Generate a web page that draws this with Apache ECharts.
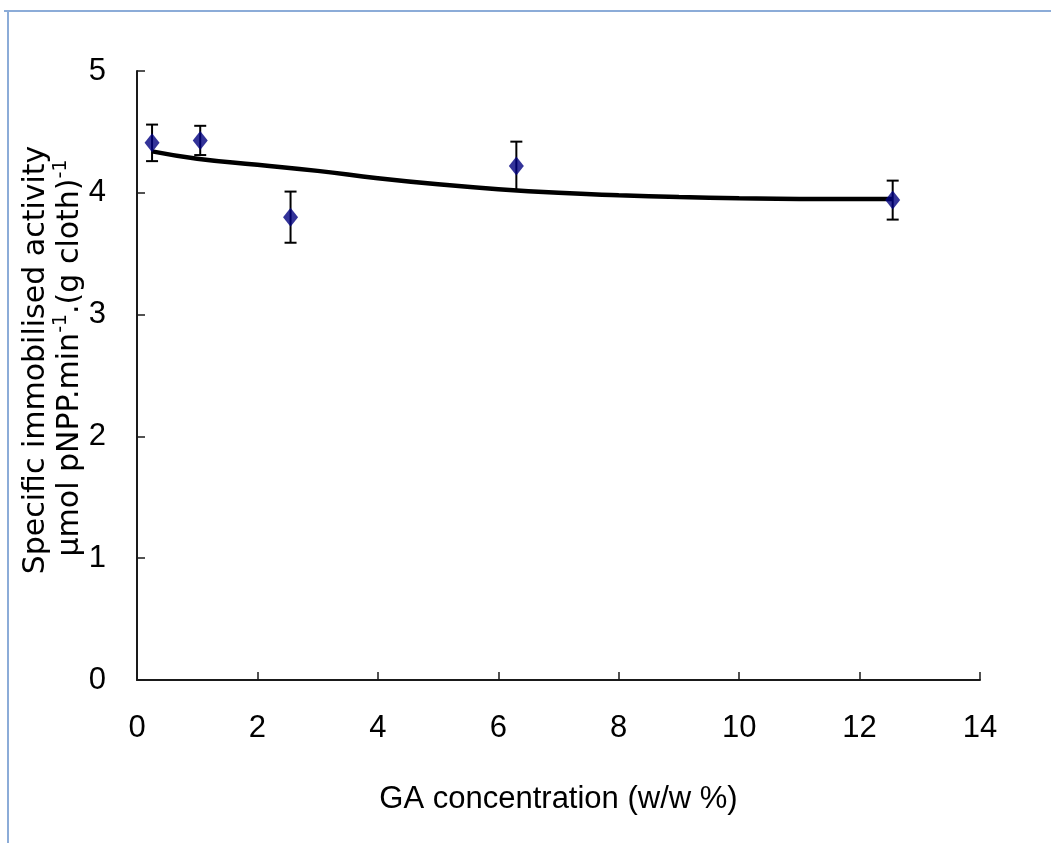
<!DOCTYPE html>
<html>
<head>
<meta charset="utf-8">
<style>
  html, body { margin: 0; padding: 0; background: #ffffff; }
  #chart { width: 1051px; height: 843px; }
</style>
<script src="https://cdn.jsdelivr.net/npm/echarts@6/dist/echarts.min.js"></script>
</head>
<body>
<div id="chart"></div>
<script>
// GA concentration (w/w %) of each measured sample
const gaConcentration = [0.25, 1.05, 2.55, 6.3, 12.55];
// Mean specific immobilised activity and its standard deviation
const activity = [4.41, 4.43, 3.80, 4.22, 3.94];
const activityError = [0.15, 0.12, 0.21, 0.20, 0.16];
// Fitted trend curve through the measurements
const trendX = [0.25, 1, 2, 3, 4, 5, 6, 7, 8, 9, 10, 11, 12, 12.55];
const trendY = [4.34, 4.28, 4.23, 4.18, 4.12, 4.07, 4.03, 4.00, 3.98, 3.965, 3.955, 3.95, 3.95, 3.95];
// Axis ranges and steps
const xAxisRange = [0, 14, 2];
const yAxisRange = [0, 5, 1];

const FONT = '"Liberation Sans", Arial, sans-serif';
const TITLE_FONT = '"DejaVu Sans", sans-serif';
const AXIS_COLOR = '#1a1a1a';

const chart = echarts.init(document.getElementById('chart'), null, { renderer: 'canvas' });

const points = gaConcentration.map((x, i) => [x, activity[i]]);
const errorBars = gaConcentration.map((x, i) => [x, activity[i] - activityError[i], activity[i] + activityError[i]]);
const trend = trendX.map((x, i) => [x, trendY[i]]);

function renderErrorBar(params, api) {
  const x = api.value(0);
  const low = api.coord([x, api.value(1)]);
  const high = api.coord([x, api.value(2)]);
  const cap = 6;
  const style = { stroke: '#000000', lineWidth: 2 };
  return {
    type: 'group',
    children: [
      { type: 'line', shape: { x1: low[0], y1: low[1], x2: high[0], y2: high[1] }, style },
      { type: 'line', shape: { x1: high[0] - cap, y1: high[1], x2: high[0] + cap, y2: high[1] }, style },
      { type: 'line', shape: { x1: low[0] - cap, y1: low[1], x2: low[0] + cap, y2: low[1] }, style }
    ]
  };
}

chart.setOption({
  animation: false,
  backgroundColor: '#ffffff',
  grid: { left: 137, right: 71, top: 71, bottom: 163, containLabel: false },
  xAxis: {
    type: 'value',
    min: xAxisRange[0], max: xAxisRange[1], interval: xAxisRange[2],
    name: 'GA concentration (w/w %)',
    nameLocation: 'middle',
    nameGap: 104,
    nameTextStyle: { fontFamily: FONT, fontSize: 31, color: '#000000' },
    axisLine: { show: true, lineStyle: { color: AXIS_COLOR, width: 2 } },
    axisTick: { show: true, inside: true, length: 8, lineStyle: { color: AXIS_COLOR, width: 1.5 } },
    axisLabel: { fontFamily: FONT, fontSize: 31, color: '#000000', margin: 33 },
    splitLine: { show: false }
  },
  yAxis: {
    type: 'value',
    min: yAxisRange[0], max: yAxisRange[1], interval: yAxisRange[2],
    axisLine: { show: true, lineStyle: { color: AXIS_COLOR, width: 2 } },
    axisTick: { show: true, inside: true, length: 8, lineStyle: { color: AXIS_COLOR, width: 1.5 } },
    axisLabel: { fontFamily: FONT, fontSize: 31, color: '#000000', margin: 31 },
    splitLine: { show: false }
  },
  graphic: [
    // light blue frame along the top and left edges
    { type: 'line', shape: { x1: 4, y1: 11, x2: 1051, y2: 11 }, style: { stroke: '#8cacd8', lineWidth: 2 } },
    { type: 'line', shape: { x1: 8, y1: 11, x2: 8, y2: 843 }, style: { stroke: '#8cacd8', lineWidth: 2 } },
    // two-line y-axis title
    {
      type: 'text', x: 36, y: 360, rotation: Math.PI / 2,
      style: {
        text: 'Specific immobilised activity',
        fontFamily: TITLE_FONT, fontSize: 30, fill: '#000000',
        align: 'center', verticalAlign: 'middle'
      }
    },
    {
      type: 'text', x: 70, y: 358, rotation: Math.PI / 2,
      style: {
        text: '{n|μmol pNPP.min}{s|-1}{n|.(g cloth)}{s|-1}',
        align: 'center', verticalAlign: 'middle',
        rich: {
          n: { fontFamily: TITLE_FONT, fontSize: 30, fill: '#000000', lineHeight: 36 },
          s: { fontFamily: TITLE_FONT, fontSize: 19, fill: '#000000', lineHeight: 36, verticalAlign: 'top', padding: [0, 0, 12, 0] }
        }
      }
    }
  ],
  series: [
    {
      type: 'custom',
      name: 'error',
      renderItem: renderErrorBar,
      data: errorBars,
      encode: { x: 0, y: [1, 2] },
      z: 1,
      silent: true
    },
    {
      type: 'line',
      name: 'trend',
      data: trend,
      smooth: true,
      showSymbol: false,
      lineStyle: { color: '#000000', width: 4.5 },
      z: 2,
      silent: true
    },
    {
      type: 'scatter',
      name: 'activity',
      data: points,
      symbol: 'diamond',
      symbolSize: [15, 19],
      itemStyle: { color: '#00007f' },
      z: 3
    }
  ]
});
</script>
</body>
</html>
